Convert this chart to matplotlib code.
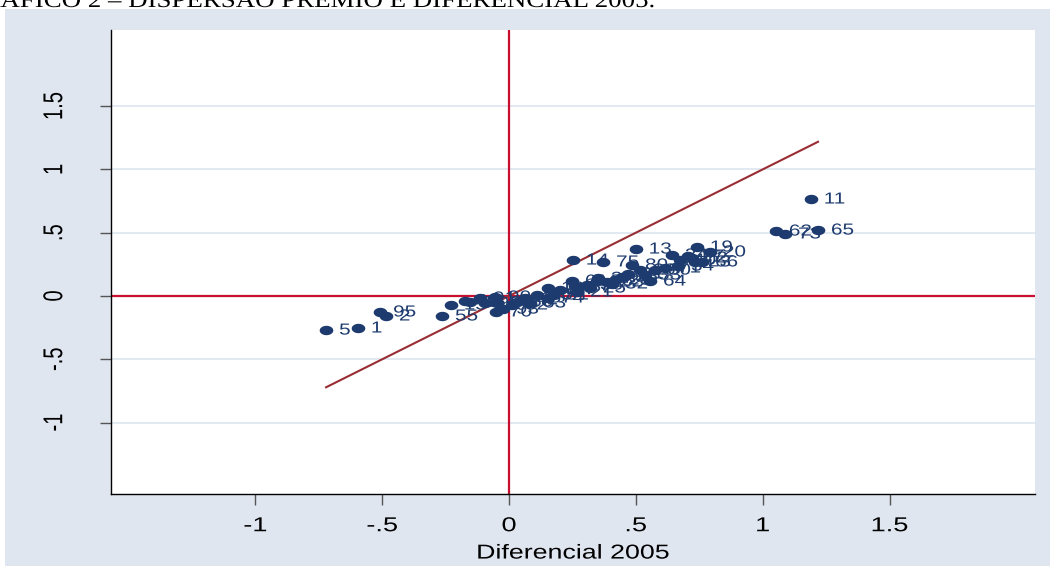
import numpy as np
import matplotlib
matplotlib.use('Agg')
import matplotlib.pyplot as plt
from matplotlib.path import Path
from matplotlib.markers import MarkerStyle
from matplotlib.patheffects import AbstractPathEffect
from matplotlib.transforms import Affine2D
from matplotlib.patches import Rectangle

# ---------------- data ----------------
labels = ['5', '1', '95', '2', '55', '15', '10', '16',
          '91', '92', '90', '85', '70', '93', '52', '50', '45', '63', '60', '18', '74', '51', '67',
          '61', '17', '21', '36', '25', '26', '22', '28', '32', '35', '31', '37',
          '14', '75', '13', '80', '29', '33', '30', '64', '71', '34', '24', '40', '27',
          '19', '20', '66', '23', '72', '41',
          '62', '73', '11', '65']
diferencial = [-0.721, -0.595, -0.508, -0.485, -0.264, -0.229, -0.173, -0.155,
               -0.114, -0.095, -0.055, -0.047, -0.051, -0.024, 0.012, 0.032, 0.063, 0.083, 0.110, 0.154, 0.154, 0.173, 0.200,
               0.248, 0.260, 0.268, 0.307, 0.319, 0.347, 0.386, 0.418, 0.406, 0.445, 0.469, 0.350,
               0.252, 0.371, 0.500, 0.485, 0.516, 0.536, 0.575, 0.556, 0.615, 0.666, 0.642, 0.674, 0.706,
               0.741, 0.792, 0.761, 0.733, 0.720, 0.050,
               1.052, 1.088, 1.190, 1.218]
premio = [-0.269, -0.253, -0.126, -0.158, -0.158, -0.071, -0.039, -0.050,
          -0.016, -0.055, -0.008, -0.055, -0.126, -0.103, -0.071, -0.047, -0.016, -0.055, 0.008, 0.063, -0.016, 0.008, 0.050,
          0.118, 0.079, 0.032, 0.087, 0.063, 0.118, 0.111, 0.126, 0.095, 0.150, 0.174, 0.140,
          0.284, 0.269, 0.371, 0.245, 0.205, 0.166, 0.205, 0.118, 0.221, 0.237, 0.324, 0.284, 0.316,
          0.387, 0.348, 0.269, 0.269, 0.300, -0.030,
          0.513, 0.490, 0.766, 0.521]

x_ticks = [-1, -0.5, 0, 0.5, 1, 1.5]
x_tick_labels = ['-1', '-.5', '0', '.5', '1', '1.5']
y_ticks = [-1, -0.5, 0, 0.5, 1, 1.5]
y_tick_labels = ['-1', '-.5', '0', '.5', '1', '1.5']

x_title = 'Diferencial 2005'
caption = 'GRÁFICO 2 – DISPERSÃO PRÊMIO E DIFERENCIAL 2005.'

# ---------------- style ----------------
NAVY = '#1d3b6e'
RED = '#c8102e'
FIT = '#992d33'
BG = '#e0e6f0'
GRID = '#dde5ef'
W, H = 1050, 569


class HStretch(AbstractPathEffect):
    """Stretch glyphs horizontally (the reference picture is widened)."""
    def __init__(self, factor, anchor='center'):
        super().__init__()
        self.factor = factor
        self.anchor = anchor

    def draw_path(self, renderer, gc, tpath, affine, rgbFace=None):
        ext = tpath.transformed(affine).get_extents()
        cx = ext.x0 if self.anchor == 'left' else 0.5 * (ext.x0 + ext.x1)
        new_affine = affine + Affine2D().translate(-cx, 0).scale(self.factor, 1).translate(cx, 0)
        renderer.draw_path(gc, tpath, new_affine, rgbFace)


plt.rcParams['font.family'] = ['Liberation Sans', 'DejaVu Sans']

fig = plt.figure(figsize=(W / 100, H / 100), dpi=100, facecolor='white')
fig.patches.append(Rectangle((5 / W, 3 / H), 1 - 5 / W, (H - 9 - 3) / H,
                             transform=fig.transFigure, facecolor=BG,
                             edgecolor='none', zorder=-10))

fig.text(-0.035, 1 - 7 / H, caption, family=['Liberation Serif', 'DejaVu Serif'],
         fontsize=16, va='baseline', ha='left', color='black',
         path_effects=[HStretch(1.21, 'left')])

left, right, top, bottom = 111, 1035, 30, 494
ax = fig.add_axes([left / W, 1 - bottom / H, (right - left) / W, (bottom - top) / H])
ax.set_facecolor('white')

# axis ranges (pixel calibration: 0 at x=509, y=296)
px_x, px_y = 253.7, 126.6
ax.set_xlim((left - 509) / px_x, (right - 509) / px_x)
ax.set_ylim((296 - bottom) / px_y, (296 - top) / px_y)

ax.set_xticks(x_ticks, x_tick_labels)
ax.set_yticks(y_ticks, y_tick_labels, rotation=90, va='center')
ax.tick_params(axis='both', direction='out', length=8, width=1, color='#555555',
               labelsize=14.5, labelcolor='black')
ax.tick_params(axis='x', pad=8)
ax.tick_params(axis='y', pad=26)
for lbl in ax.get_xticklabels() + ax.get_yticklabels():
    lbl.set_path_effects([HStretch(1.35)])

ax.yaxis.grid(True, color=GRID, lw=1.2, zorder=0)
ax.xaxis.grid(False)
ax.set_axisbelow(True)
for s in ['top', 'right']:
    ax.spines[s].set_visible(False)
for s in ['left', 'bottom']:
    ax.spines[s].set_color('black')
    ax.spines[s].set_linewidth(1)

xl = ax.set_xlabel(x_title, fontsize=14.5, labelpad=6, color='black')
xl.set_path_effects([HStretch(1.33)])

# reference lines
ax.axvline(0, color=RED, lw=1.6, zorder=2)
ax.axhline(0, color=RED, lw=1.6, zorder=2)

# 45-degree line over the data range
xs = np.array([min(diferencial), max(diferencial)])
ax.plot(xs, xs, color=FIT, lw=1.5, zorder=3)

# elliptical markers (picture is stretched horizontally)
t = np.linspace(0, 2 * np.pi, 60)
ell = Path(np.column_stack([1.45 * np.cos(t), np.sin(t)]), closed=True)
ax.plot(diferencial, premio, linestyle='none', marker=MarkerStyle(ell),
        markersize=9.8, markerfacecolor=NAVY, markeredgewidth=0, zorder=4)

for lab, xv, yv in zip(labels, diferencial, premio):
    ax.annotate(lab, (xv, yv), xytext=(9.5, 0), textcoords='offset points',
                ha='left', va='center', fontsize=11.5, color=NAVY, zorder=5,
                path_effects=[HStretch(1.3, 'left')])

fig.savefig('out.png', dpi=100, facecolor=fig.get_facecolor())
